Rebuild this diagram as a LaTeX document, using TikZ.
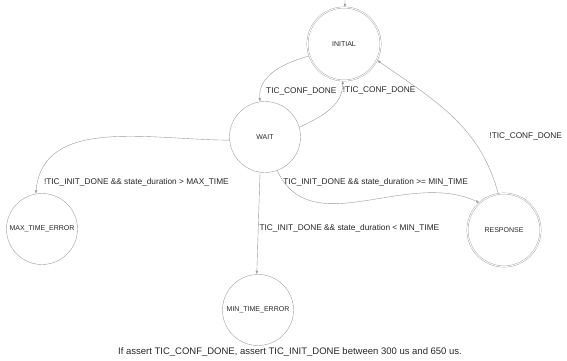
\documentclass[tikz,border=0pt]{standalone}
\usepackage{fontspec}
\setmainfont{Liberation Sans}
\usetikzlibrary{positioning, arrows.meta}

\begin{document}
\begin{tikzpicture}[
    x=1pt, y=-1pt,
    state/.style={circle, draw=gray!75, thin, inner sep=0pt, minimum size=71pt, font=\fontsize{7}{8}\selectfont, text=black!85},
    final/.style={state, double=white, double distance=0.9pt, minimum size=73pt},
    lbl/.style={font=\fontsize{8.3}{10}\selectfont, text=black!85, inner sep=1pt},
    arrow/.style={-{Latex[length=3.5pt, width=2.5pt]}, draw=gray!80, thin},
]
\useasboundingbox (0,0) rectangle (567,361);

%% NODES
    % top
    \coordinate (start) at (345,0);
    \node[final] (initial) at (344,44) {INITIAL};
    \node[state] (wait) at (265,137) {WAIT};

    % errors
    \node[state] (max_time_error) at (42,229) {MAX\_TIME\_ERROR};
    \node[state] (min_time_error) at (258,310) {MIN\_TIME\_ERROR};

    % response
    \node[final] (response) at (504,230) {RESPONSE};

    % note
    \node[lbl, font=\fontsize{9.5}{11}\selectfont] (note) at (290,352) {If assert TIC\_CONF\_DONE, assert TIC\_INIT\_DONE between 300 us and 650 us.};

%% CONNECTIONS
    \draw[arrow] (start) -- (initial);

    % initial <-> wait
    \draw[arrow] (initial.199) to[out=195, in=95] node[lbl, at end, anchor=south west, xshift=5pt, yshift=5pt] {TIC\_CONF\_DONE} (wait.98);
    \draw[arrow] (wait.16) to[out=25, in=-90] node[lbl, at end, anchor=north west, xshift=-1pt, yshift=-5pt] {!TIC\_CONF\_DONE} (initial.268);

    % response -> initial
    \draw[arrow] (response.99) to[out=105, in=-35] node[lbl, at start, anchor=west, xshift=-10pt, yshift=57pt] {!TIC\_CONF\_DONE} (initial.334);

    % wait -> errors
    \draw[arrow] (wait.185) to[out=180, in=85] node[lbl, at end, anchor=south west, xshift=7pt, yshift=6pt] {!TIC\_INIT\_DONE \&\& state\_duration > MAX\_TIME} (max_time_error.100);
    \draw[arrow] (wait.262) -- node[lbl, midway, anchor=west, yshift=-5pt] {TIC\_INIT\_DONE \&\& state\_duration < MIN\_TIME} (min_time_error.92);

    % wait -> response
    \draw[arrow] (wait.290) to[out=-65, in=155] node[lbl, at start, anchor=west, xshift=5pt, yshift=-12pt] {TIC\_INIT\_DONE \&\& state\_duration >= MIN\_TIME} (response.132);

\end{tikzpicture}
\end{document}
